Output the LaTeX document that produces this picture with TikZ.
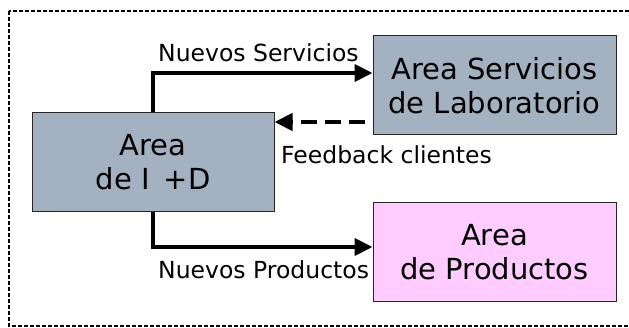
\documentclass[tikz,border=0pt]{standalone}
\usepackage{fontspec}
\setmainfont{DejaVu Sans}
\usepackage{xcolor}
\usepackage{tikz}
\usetikzlibrary{positioning, calc, arrows.meta}
\definecolor{rdcolor}{RGB}{163,177,192}
\definecolor{prodcolor}{RGB}{255,204,255}

\begin{document}
\begin{tikzpicture}[x=1pt, y=-1pt]
	\tikzstyle{areab}=[rectangle, draw=black!85, line width=1pt, minimum width=243pt, minimum height=99pt, inner sep=0pt, align=center, font=\fontsize{29}{34}\selectfont]
	\tikzstyle{flow}=[line width=4pt, -{Triangle[length=18pt,width=17pt]}]
	\tikzstyle{lbl}=[anchor=west, inner sep=0pt, font=\fontsize{23.5}{27}\selectfont]
	\useasboundingbox (0,0) rectangle (629,328);
	\draw[dash pattern=on 4pt off 2pt, line width=1.3pt] (9,11) rectangle (640,326);
	\node (rd) at (153,162.5) [areab, minimum width=242pt, fill=rdcolor]{Area\\de I \,+D};
	\node (lab) at (494.5,85.5) [areab, fill=rdcolor]{Area Servicios\\de Laboratorio};
	\node (prod) at (494.5,252.5) [areab, fill=prodcolor]{Area\\de Productos};
	
	\draw[flow] (rd.north) |- ([yshift=12.5pt]lab.west);
	\draw[flow] (rd.south) |- ([yshift=5.5pt]prod.west);
	\coordinate (fbs) at ([yshift=-36.5pt]lab.west);
	\draw[flow, dash pattern=on 16pt off 8pt, dash phase=16pt] (fbs) -- (fbs -| rd.east);
	
	\node (nserv) at (158,53) [lbl]{Nuevos Servicios};
	\node (fback) at (281,155) [lbl]{Feedback clientes};
	\node (nprod) at (158,270) [lbl]{Nuevos Productos};
\end{tikzpicture}
\end{document}
